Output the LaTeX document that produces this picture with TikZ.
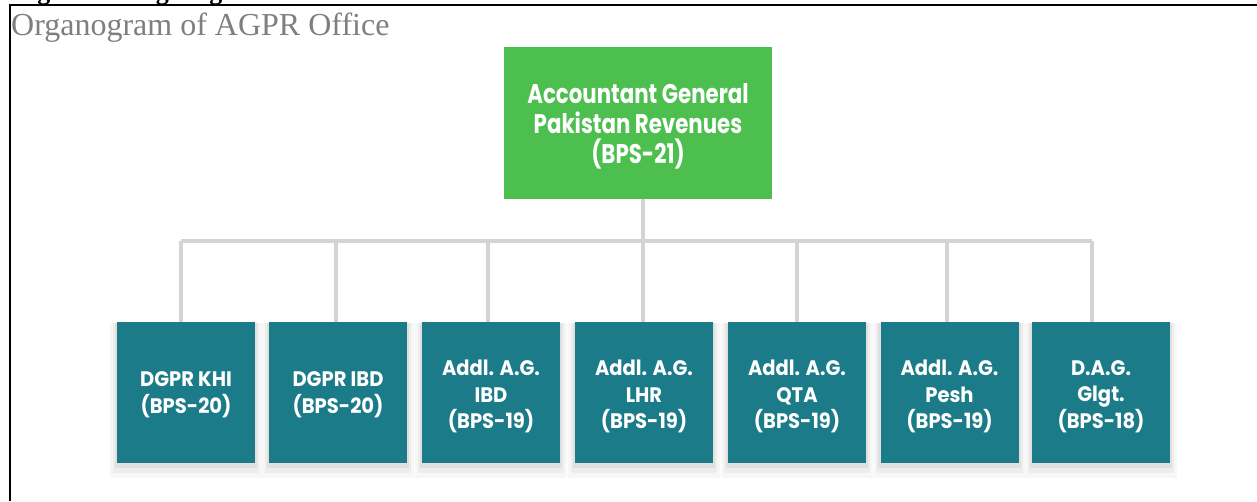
\documentclass[tikz,border=0pt]{standalone}
\usepackage{fontspec}
\setmainfont{Liberation Serif}
\newfontfamily\boxfont[FakeStretch=0.93]{Poppins}
\newfontfamily\topfont[FakeStretch=0.79]{Poppins}
\usetikzlibrary{shadows}
\definecolor{agreen}{HTML}{4CBF4F}
\definecolor{ateal}{HTML}{1C7B88}
\definecolor{aline}{HTML}{D4D4D4}
\definecolor{atitle}{HTML}{7F7F7F}
\tikzset{
  softshadow/.style={
    general shadow={fill=black, opacity=0.03, shadow scale=1.10, shadow yshift=-7pt},
    general shadow={fill=black, opacity=0.04, shadow scale=1.06, shadow yshift=-5pt},
    general shadow={fill=black, opacity=0.05, shadow scale=1.03, shadow yshift=-3pt}},
  topbox/.style={rectangle, fill=agreen, inner sep=0pt, minimum width=268pt, minimum height=152pt},
  toptext/.style={inner sep=0pt, text=white, align=center, font=\topfont\bfseries\fontsize{27}{30}\selectfont},
  unitbox/.style={rectangle, fill=ateal, inner sep=0pt, minimum width=138pt, minimum height=141pt, softshadow},
  unittext/.style={inner sep=0pt, text=white, align=center, font=\boxfont\bfseries\fontsize{21}{26.5}\selectfont},
  conn/.style={draw=aline, line width=4pt},
  frameline/.style={draw=black, line width=2pt}
}
\begin{document}
\begin{tikzpicture}[x=1pt,y=-1pt]
\useasboundingbox (0,0) rectangle (1257,501);
\fill[white] (0,0) rectangle (1257,501);
% cut caption at the top
\begin{scope}
\clip (0,0) rectangle (1257,4);
\node[anchor=base west, inner sep=0pt, font=\bfseries\fontsize{26}{30}\selectfont] (cap) at (14,-1) {Figure 1: Organogram of AGPR Office};
\end{scope}
% frame
\coordinate (ftl) at (10,4.5);
\coordinate (ftr) at (1257,4.5);
\coordinate (fbl) at (10,501);
\draw[frameline] (ftr) -- (ftl) -- (fbl);
% title
\node[anchor=base west, inner sep=0pt, text=atitle, font=\fontsize{32}{36}\selectfont] (title) at (11,35) {Organogram of AGPR Office};
% boxes
\node[topbox] (ag) at (638,123) {};
\node[toptext] (agt) at ([yshift=-3pt]ag.center) {Accountant General\\Pakistan Revenues\\(BPS-21)};
\node[unitbox] (b1) at (186,392.5) {};
\node[unitbox] (b2) at (338,392.5) {};
\node[unitbox] (b3) at (491,392.5) {};
\node[unitbox] (b4) at (644,392.5) {};
\node[unitbox] (b5) at (797,392.5) {};
\node[unitbox] (b6) at (949.5,392.5) {};
\node[unitbox] (b7) at (1101,392.5) {};
\node[unittext] (t1) at ([yshift=-2pt]b1.center) {DGPR KHI\\(BPS-20)};
\node[unittext] (t2) at ([yshift=-2pt]b2.center) {DGPR IBD\\(BPS-20)};
\node[unittext] (t3) at ([yshift=-4pt]b3.center) {Addl. A.G.\\IBD\\(BPS-19)};
\node[unittext] (t4) at ([yshift=-4pt]b4.center) {Addl. A.G.\\LHR\\(BPS-19)};
\node[unittext] (t5) at ([yshift=-4pt]b5.center) {Addl. A.G.\\QTA\\(BPS-19)};
\node[unittext] (t6) at ([yshift=-4pt]b6.center) {Addl. A.G.\\Pesh\\(BPS-19)};
\node[unittext] (t7) at ([yshift=-4pt]b7.center) {D.A.G.\\Glgt.\\(BPS-18)};
% bus
\coordinate (bus) at (643,241);
\coordinate (d1) at (181,241);
\coordinate (d2) at (336,241);
\coordinate (d3) at (488,241);
\coordinate (d4) at (643,241);
\coordinate (d5) at (797,241);
\coordinate (d6) at (947,241);
\coordinate (d7) at (1092,241);
\draw[conn] (bus |- ag.south) -- (bus);
\draw[conn] (d1) -- (d7);
\foreach \i in {1,...,7} {\draw[conn] (d\i) -- (d\i |- b\i.north);}
\end{tikzpicture}
\end{document}
